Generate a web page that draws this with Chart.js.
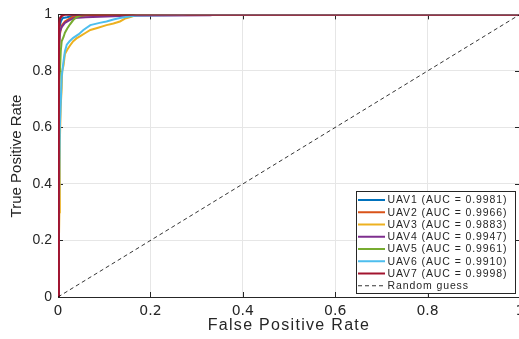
<!DOCTYPE html>
<html>
<head>
<meta charset="utf-8">
<script src="https://cdn.jsdelivr.net/npm/chart.js@4.4.0/dist/chart.umd.min.js"></script>
<style>
html, body { margin: 0; padding: 0; overflow: hidden; background: #fff; }
canvas { display: block; }
</style>
</head>
<body>
<canvas id="roc" width="540" height="339"></canvas>
<script>
// ROC points (fpr, tpr)
const uav1Fpr = [0, 0.002, 0.003, 0.006, 0.010, 0.020, 0.030, 0.050, 0.100, 1];
const uav1Tpr = [0, 0.900, 0.950, 0.975, 0.987, 0.990, 0.994, 0.998, 1, 1];

const uav2Fpr = [0, 0.002, 0.004, 0.008, 0.015, 0.030, 0.060, 0.120, 1];
const uav2Tpr = [0, 0.880, 0.930, 0.960, 0.975, 0.990, 0.996, 1, 1];

const uav3Fpr = [0, 0.003, 0.004, 0.006, 0.008, 0.009, 0.012, 0.015, 0.020, 0.026, 0.033, 0.040, 0.050, 0.060, 0.070, 0.085, 0.105, 0.120, 0.134, 0.145, 0.155, 0.170, 0.200, 1];
const uav3Tpr = [0, 0.300, 0.550, 0.680, 0.740, 0.800, 0.820, 0.860, 0.875, 0.890, 0.905, 0.915, 0.925, 0.935, 0.945, 0.952, 0.962, 0.968, 0.975, 0.985, 0.990, 0.998, 1, 1];

const uav4Fpr = [0, 0.002, 0.004, 0.008, 0.015, 0.025, 0.035, 0.060, 0.150, 0.330, 0.340, 1];
const uav4Tpr = [0, 0.850, 0.940, 0.955, 0.970, 0.980, 0.987, 0.990, 0.995, 0.997, 1, 1];

const uav5Fpr = [0, 0.003, 0.006, 0.008, 0.012, 0.015, 0.020, 0.026, 0.033, 0.040, 0.050, 0.070, 1];
const uav5Tpr = [0, 0.750, 0.870, 0.905, 0.920, 0.935, 0.950, 0.965, 0.980, 0.990, 0.996, 1, 1];

const uav6Fpr = [0, 0.004, 0.008, 0.012, 0.015, 0.019, 0.025, 0.033, 0.045, 0.055, 0.070, 0.090, 0.105, 0.120, 0.134, 0.150, 0.170, 0.270, 0.280, 1];
const uav6Tpr = [0, 0.600, 0.780, 0.835, 0.870, 0.893, 0.905, 0.917, 0.930, 0.945, 0.962, 0.970, 0.975, 0.982, 0.987, 0.992, 0.996, 0.998, 1, 1];

const uav7Fpr = [0, 0.001, 0.002, 0.004, 0.008, 0.015, 1];
const uav7Tpr = [0, 0.500, 0.950, 0.985, 0.995, 1, 1];

const randomFpr = [0, 1];
const randomTpr = [0, 1];

const uavNames = ['UAV1', 'UAV2', 'UAV3', 'UAV4', 'UAV5', 'UAV6', 'UAV7'];
const aucValues = ['0.9981', '0.9966', '0.9883', '0.9947', '0.9961', '0.9910', '0.9998'];
const randomName = 'Random guess';

const xTickValues = [0, 0.2, 0.4, 0.6, 0.8, 1];
const xTickLabels = ['0', '0.2', '0.4', '0.6', '0.8', '1'];
const yTickValues = [0, 0.2, 0.4, 0.6, 0.8, 1];
const yTickLabels = ['0', '0.2', '0.4', '0.6', '0.8', '1'];

const xTitle = 'False Positive Rate';
const yTitle = 'True Positive Rate';

const uavColors = ['#0072BD', '#D95319', '#EDB120', '#7E2F8E', '#77AC30', '#4DBEEE', '#A2142F'];
const axisColor = '#262626';


function toPoints(xs, ys) {
    return xs.map((x, i) => ({x: x, y: ys[i]}));
}

function tickLabel(values, labels) {
    return (v) => {
        const i = values.findIndex(t => Math.abs(t - v) < 1e-6);
        return i >= 0 ? labels[i] : '';
    };
}

// MATLAB style box with inward ticks, drawn under the curves
const axesBox = {
    id: 'axesBox',
    beforeDatasetsDraw(chart) {
        const {ctx, chartArea: a, scales: {x, y}} = chart;
        ctx.save();
        ctx.strokeStyle = axisColor;
        ctx.lineWidth = 1;
        ctx.strokeRect(Math.round(a.left) + 0.5, Math.round(a.top) + 0.5, Math.round(a.right - a.left), Math.round(a.bottom - a.top));
        ctx.beginPath();
        xTickValues.forEach(v => {
            const px = Math.round(x.getPixelForValue(v)) + 0.5;
            ctx.moveTo(px, a.bottom); ctx.lineTo(px, a.bottom - 5);
            ctx.moveTo(px, a.top); ctx.lineTo(px, a.top + 5);
        });
        yTickValues.forEach(v => {
            const py = Math.round(y.getPixelForValue(v)) + 0.5;
            ctx.moveTo(a.left, py); ctx.lineTo(a.left + 5, py);
            ctx.moveTo(a.right, py); ctx.lineTo(a.right - 5, py);
        });
        ctx.stroke();
        ctx.restore();
    }
};

const axisTitles = {
    id: 'axisTitles',
    afterDraw(chart) {
        const ctx = chart.ctx;
        ctx.save();
        ctx.fillStyle = axisColor;
        ctx.font = '16px "Liberation Sans", Arial, sans-serif';
        ctx.textAlign = 'center';
        ctx.textBaseline = 'alphabetic';
        ctx.letterSpacing = '1.3px';
        ctx.fillText(xTitle, 289, 330);
        ctx.letterSpacing = '0px';
        ctx.font = '15px "Liberation Sans", Arial, sans-serif';
        ctx.translate(21, 156);
        ctx.rotate(-Math.PI / 2);
        ctx.fillText(yTitle, 0, 0);
        ctx.restore();
    }
};

const boxLegend = {
    id: 'boxLegend',
    afterDraw(chart) {
        const ctx = chart.ctx;
        const left = 356.5, top = 191.5, width = 159, height = 102;
        ctx.save();
        ctx.fillStyle = '#fff';
        ctx.fillRect(left, top, width, height);
        ctx.strokeStyle = axisColor;
        ctx.lineWidth = 1;
        ctx.strokeRect(left, top, width, height);
        ctx.font = '10.5px "Liberation Sans", Arial, sans-serif';
        ctx.letterSpacing = '0.9px';
        ctx.textBaseline = 'middle';
        ctx.textAlign = 'left';
        chart.data.datasets.forEach((ds, i) => {
            const cy = 200 + i * 12.25;
            ctx.strokeStyle = ds.borderColor;
            ctx.lineWidth = ds.legendWidth;
            ctx.setLineDash(ds.borderDash || []);
            ctx.beginPath();
            ctx.moveTo(358, cy);
            ctx.lineTo(385, cy);
            ctx.stroke();
            ctx.fillStyle = axisColor;
            ctx.fillText(ds.label, 387.5, cy + 0.5);
        });
        ctx.restore();
    }
};

function getConfig() {
    const fprs = [uav1Fpr, uav2Fpr, uav3Fpr, uav4Fpr, uav5Fpr, uav6Fpr, uav7Fpr];
    const tprs = [uav1Tpr, uav2Tpr, uav3Tpr, uav4Tpr, uav5Tpr, uav6Tpr, uav7Tpr];
    const datasets = uavNames.map((name, i) => ({
        label: name + ' (AUC = ' + aucValues[i] + ')',
        data: toPoints(fprs[i], tprs[i]),
        borderColor: uavColors[i],
        borderWidth: (i === 6) ? 2.5 : 2,
        legendWidth: 2,
        pointRadius: 0,
        tension: 0,
        order: uavNames.length - i
    }));
    datasets.push({
        label: randomName,
        data: toPoints(randomFpr, randomTpr),
        borderColor: '#000',
        borderWidth: 0.8,
        legendWidth: 0.8,
        borderDash: [4, 3],
        pointRadius: 0,
        order: 0
    });
    return {
        type: 'line',
        data: {datasets: datasets},
        options: {
            responsive: false,
            animation: false,
            layout: {padding: {top: 13, right: 20, left: 0, bottom: 0}},
            plugins: {
                legend: {display: false},
                tooltip: {enabled: false}
            },
            scales: {
                x: {
                    type: 'linear',
                    min: 0,
                    max: 1,
                    afterBuildTicks: (s) => { s.ticks = xTickValues.map(v => ({value: v})); },
                    afterFit: (s) => { s.height = 42; },
                    ticks: {
                        callback: tickLabel(xTickValues, xTickLabels),
                        color: axisColor,
                        padding: 6,
                        maxRotation: 0,
                        font: {family: '"DejaVu Sans"', size: 14}
                    },
                    grid: {color: '#e6e6e6', drawTicks: false},
                    border: {display: false}
                },
                y: {
                    type: 'linear',
                    min: 0,
                    max: 1,
                    afterBuildTicks: (s) => { s.ticks = yTickValues.map(v => ({value: v})); },
                    afterFit: (s) => { s.width = 58; },
                    ticks: {
                        callback: tickLabel(yTickValues, yTickLabels),
                        color: axisColor,
                        padding: 6,
                        font: {family: '"Liberation Sans"', size: 14}
                    },
                    grid: {color: '#e6e6e6', drawTicks: false},
                    border: {display: false}
                }
            }
        },
        plugins: [axesBox, axisTitles, boxLegend]
    };
}

function drawChart(chartId) {
    const curChart = Chart.getChart(chartId);
    if (curChart) {
        curChart.destroy();
    }
    new Chart(document.getElementById(chartId), getConfig());
}

drawChart('roc');
</script>
</body>
</html>
